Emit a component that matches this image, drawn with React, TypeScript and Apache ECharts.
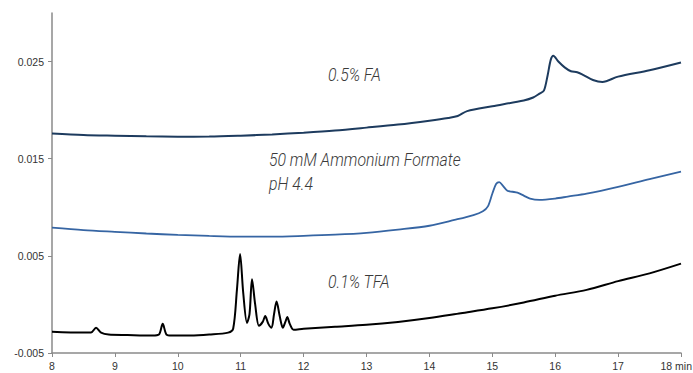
import React, { useEffect, useRef } from "react";
import * as echarts from "echarts";

const faTime = [8, 8.5, 9, 9.5, 10, 10.5, 11, 11.5, 12, 12.5, 13, 13.5, 14, 14.3, 14.45, 14.6, 15, 15.5, 15.65, 15.75, 15.82, 15.88, 15.93, 15.97, 16.05, 16.15, 16.25, 16.35, 16.45, 16.6, 16.75, 17, 17.5, 18];
const faValue = [0.0176, 0.01745, 0.01737, 0.0173, 0.01727, 0.01728, 0.01737, 0.0175, 0.01768, 0.0179, 0.0182, 0.01852, 0.01892, 0.0192, 0.0194, 0.0199, 0.0204, 0.021, 0.0213, 0.0217, 0.022, 0.0236, 0.0252, 0.0256, 0.025, 0.0244, 0.024, 0.0239, 0.0236, 0.0231, 0.0229, 0.02345, 0.0241, 0.0249];

const afTime = [8, 8.5, 9, 9.5, 10, 10.5, 11, 11.5, 12, 12.5, 13, 13.5, 14, 14.4, 14.7, 14.85, 14.93, 15.0, 15.06, 15.11, 15.17, 15.24, 15.32, 15.4, 15.5, 15.6, 15.75, 16, 16.2, 16.5, 17, 17.5, 18];
const afValue = [0.0079, 0.00765, 0.00747, 0.0073, 0.00716, 0.00705, 0.00698, 0.00698, 0.00706, 0.00718, 0.00737, 0.0077, 0.0081, 0.0087, 0.0092, 0.0096, 0.0101, 0.0114, 0.0124, 0.0126, 0.0122, 0.0117, 0.0116, 0.0115, 0.0112, 0.0109, 0.01077, 0.0109, 0.0111, 0.0114, 0.0121, 0.0129, 0.01366];

const tfaTime = [8, 8.5, 8.62, 8.7, 8.78, 8.9, 9.2, 9.6, 9.7, 9.76, 9.82, 9.9, 10.2, 10.5, 10.8, 10.88, 10.94, 10.99, 11.04, 11.1, 11.14, 11.18, 11.23, 11.29, 11.35, 11.39, 11.44, 11.49, 11.53, 11.57, 11.62, 11.67, 11.71, 11.74, 11.78, 11.84, 12, 12.5, 13, 13.5, 14, 14.5, 15, 15.5, 16, 16.5, 17, 17.5, 18];
const tfaValue = [-0.0028, -0.0029, -0.0029, -0.0024, -0.0029, -0.0031, -0.00315, -0.0032, -0.0031, -0.002, -0.0031, -0.0032, -0.0032, -0.0031, -0.0029, -0.0025, 0.0015, 0.0052, 0.0012, -0.0019, -0.001, 0.0026, 0.0, -0.0022, -0.0018, -0.0012, -0.002, -0.0024, -0.001, 0.0003, -0.0012, -0.0024, -0.0018, -0.0013, -0.002, -0.0026, -0.0025, -0.0023, -0.0021, -0.0018, -0.0014, -0.0009, -0.0004, 0.0002, 0.0009, 0.0015, 0.0024, 0.0032, 0.0042];

const yTicks = [-0.005, 0.005, 0.015, 0.025];
const xMaxLabel = "18 min";
const labels = [
  { text: "0.5% FA", x: 328, y: 75 },
  { text: "50 mM Ammonium Formate", x: 269, y: 160 },
  { text: "pH 4.4", x: 269, y: 184 },
  { text: "0.1% TFA", x: 328, y: 282 },
];

const zip = (t: number[], v: number[]) => t.map((x, i) => [x, v[i]]);

export default function App() {
  const ref = useRef<HTMLDivElement>(null);
  useEffect(() => {
    const chart = echarts.init(ref.current!, null, { renderer: "svg" });
    const fontFamily = "Liberation Sans, Arial, sans-serif";
    const axisText = { color: "#333", fontSize: 10.5, fontFamily };
    chart.setOption({
      animation: false,
      grid: { left: 52, right: 12, top: 13, bottom: 20, containLabel: false, outerBoundsMode: "none" },
      xAxis: {
        type: "value",
        min: 8,
        max: 18,
        interval: 1,
        splitLine: { show: false },
        axisLine: { onZero: false, lineStyle: { color: "#8a8a8a", width: 1.5 } },
        axisTick: { length: 4, lineStyle: { color: "#8a8a8a" } },
        axisLabel: { ...axisText, margin: 7, formatter: (v: number) => (v === 18 ? "" : String(v)) },
      },
      yAxis: {
        type: "value",
        min: -0.005,
        max: 0.03,
        splitLine: { show: false },
        axisLine: { show: true, onZero: false, lineStyle: { color: "#8a8a8a", width: 1.5 } },
        axisTick: { show: true, length: 4, lineStyle: { color: "#8a8a8a" }, customValues: yTicks },
        axisLabel: { ...axisText, margin: 8, customValues: yTicks, formatter: (v: number) => v.toFixed(3) },
      },
      graphic: [
        ...labels.map((l) => ({
          type: "text",
          x: l.x,
          y: l.y,
          scaleX: 0.88,
          style: {
            text: l.text,
            fill: "#3a3a3a",
            font: "italic 300 18px Roboto",
            verticalAlign: "middle",
          },
        })),
        {
          type: "text",
          right: 1,
          top: 360,
          style: { text: xMaxLabel, fill: "#333", fontSize: 10.5, fontFamily },
        },
      ],
      series: [
        { type: "line", data: zip(faTime, faValue), showSymbol: false, smooth: 0.3, lineStyle: { color: "#1d3b5e", width: 2 } },
        { type: "line", data: zip(afTime, afValue), showSymbol: false, smooth: 0.3, lineStyle: { color: "#3665a3", width: 1.8 } },
        { type: "line", data: zip(tfaTime, tfaValue), showSymbol: false, smooth: 0.3, lineStyle: { color: "#000000", width: 2 } },
      ],
    });
    return () => chart.dispose();
  }, []);
  return <div ref={ref} style={{ position: "absolute", left: 0, top: 0, width: 693, height: 373 }} />;
}
